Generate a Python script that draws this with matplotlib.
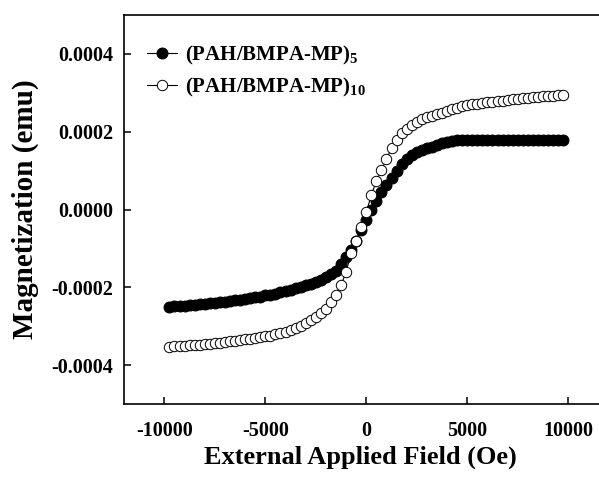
import matplotlib
matplotlib.use('Agg')
import matplotlib.pyplot as plt
from matplotlib.ticker import FuncFormatter

# applied field (Oe)
field = [-9750, -9500, -9250, -9000, -8750, -8500, -8250, -8000, -7750, -7500,
         -7250, -7000, -6750, -6500, -6250, -6000, -5750, -5500, -5250, -5000,
         -4750, -4500, -4250, -4000, -3750, -3500, -3250, -3000, -2750, -2500,
         -2250, -2000, -1750, -1500, -1250, -1000, -750, -500, -250, 0,
         250, 500, 750, 1000, 1250, 1500, 1750, 2000, 2250, 2500,
         2750, 3000, 3250, 3500, 3750, 4000, 4250, 4500, 4750, 5000,
         5250, 5500, 5750, 6000, 6250, 6500, 6750, 7000, 7250, 7500,
         7750, 8000, 8250, 8500, 8750, 9000, 9250, 9500, 9750]

# magnetization in units of 1e-4 emu
m_5 = [-2.50, -2.49, -2.48, -2.47, -2.46, -2.45, -2.44, -2.42, -2.41, -2.40,
       -2.38, -2.37, -2.35, -2.335, -2.32, -2.30, -2.28, -2.26, -2.24, -2.21,
       -2.19, -2.16, -2.13, -2.10, -2.06, -2.02, -1.98, -1.95, -1.91, -1.86,
       -1.80, -1.74, -1.67, -1.58, -1.39, -1.21, -1.05, -0.80, -0.53, -0.26,
       -0.01, 0.22, 0.46, 0.64, 0.82, 1.00, 1.17, 1.31, 1.41, 1.48,
       1.53, 1.58, 1.62, 1.66, 1.70, 1.73, 1.76, 1.78, 1.79, 1.79,
       1.78, 1.79, 1.79, 1.78, 1.79, 1.79, 1.79, 1.78, 1.79, 1.79,
       1.78, 1.79, 1.78, 1.78, 1.79, 1.78, 1.78, 1.78, 1.78]

m_10 = [-3.53, -3.52, -3.51, -3.50, -3.49, -3.485, -3.475, -3.46, -3.45, -3.44,
        -3.42, -3.41, -3.39, -3.375, -3.36, -3.34, -3.32, -3.30, -3.28, -3.26,
        -3.24, -3.21, -3.18, -3.15, -3.11, -3.05, -2.99, -2.93, -2.85, -2.76,
        -2.66, -2.55, -2.39, -2.21, -1.95, -1.60, -1.13, -0.81, -0.45, -0.07,
        0.37, 0.73, 1.01, 1.30, 1.58, 1.80, 1.96, 2.08, 2.18, 2.26,
        2.32, 2.37, 2.41, 2.45, 2.49, 2.54, 2.58, 2.62, 2.65, 2.68,
        2.70, 2.72, 2.74, 2.755, 2.77, 2.785, 2.80, 2.815, 2.83, 2.845,
        2.86, 2.87, 2.885, 2.90, 2.91, 2.92, 2.93, 2.94, 2.95]

x_ticks = [-10000, -5000, 0, 5000, 10000]
y_ticks = [-0.0004, -0.0002, 0.0, 0.0002, 0.0004]
labels = ['(PAH/BMPA-MP)$_{5}$', '(PAH/BMPA-MP)$_{10}$']

plt.rcParams['font.family'] = 'Liberation Serif'
plt.rcParams['font.weight'] = 'bold'
plt.rcParams['mathtext.fontset'] = 'custom'
plt.rcParams['mathtext.rm'] = 'Liberation Serif:bold'
plt.rcParams['mathtext.bf'] = 'Liberation Serif:bold'
plt.rcParams['mathtext.default'] = 'regular'
plt.rcParams['axes.unicode_minus'] = False

fig = plt.figure(figsize=(5.99, 4.79), dpi=100)
ax = fig.add_axes([0.207, 0.1566, 0.809, 0.812])

ax.plot(field, [v * 1e-4 for v in m_5], '-o', color='black', lw=0.8,
        ms=7.8, mfc='black', mec='black', mew=0.8, label=labels[0])
ax.plot(field, [v * 1e-4 for v in m_10], '-o', color='black', lw=0.8,
        ms=7.5, mfc='white', mec='black', mew=0.7, label=labels[1])

ax.set_xlim(-12000, 12000)
ax.set_ylim(-0.0005, 0.0005)
ax.set_xticks(x_ticks)
ax.set_yticks(y_ticks)
ax.yaxis.set_major_formatter(FuncFormatter(lambda v, p: '%.4f' % v))
ax.xaxis.set_major_formatter(FuncFormatter(lambda v, p: '%d' % v))
ax.tick_params(direction='in', length=5, width=1.1, labelsize=14.5)
ax.tick_params(axis='x', pad=12)
ax.tick_params(axis='y', pad=8)
for s in ax.spines.values():
    s.set_linewidth(1.2)

ax.set_xlabel('External Applied Field (Oe)', fontsize=19, fontweight='bold')
ax.set_ylabel('Magnetization (emu)', fontsize=21, fontweight='bold')
ax.xaxis.set_label_coords(0.487, -0.108)
ax.yaxis.set_label_coords(-0.176, 0.5)

ax.legend(loc='upper left', bbox_to_anchor=(0.03, 0.948), frameon=False,
          fontsize=15, handlelength=1.45, handletextpad=0.4, labelspacing=0.45,
          borderaxespad=0)

fig.savefig('out.png', dpi=100)
